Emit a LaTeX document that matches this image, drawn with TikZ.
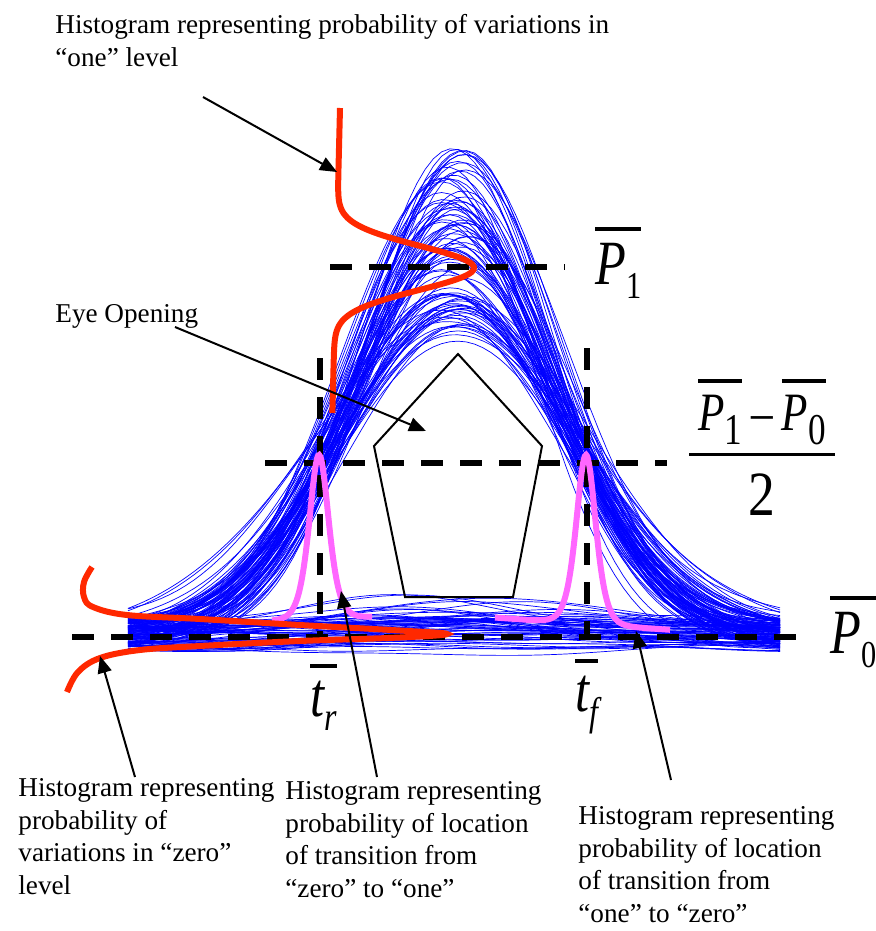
\documentclass[tikz,border=0pt]{standalone}
\usepackage{fontspec}
\usepackage{graphicx}
\setmainfont{Liberation Serif}
\newfontfamily\lblfont{Liberation Serif}
\usetikzlibrary{arrows.meta}
\definecolor{histred}{RGB}{255,40,0}
\definecolor{histpink}{RGB}{255,102,255}

\newcommand{\notefont}{\fontsize{13.6}{16.3}\selectfont}
% barred level symbol with its index: \ovl{symbol}{index}{index size}
\newcommand{\ovl}[3]{\scalebox{0.8}[1]{\vbox{\hrule height 1.6pt\kern 6.5pt\hbox{\itshape #1\lower 7pt\hbox{\fontsize{#3}{#3}\selectfont #2}}}}}

\begin{document}
\begin{tikzpicture}[
    x=0.5pt, y=-0.5pt,
    trace/.style={blue, line width=0.35pt},
    lvl/.style={line width=3pt, dash pattern=on 11pt off 8.5pt},
    hist/.style={line width=3pt},
    arr/.style={-{Triangle[length=8.5pt,width=7pt]}, line width=1pt},
    note/.style={font=\notefont, align=left, anchor=north west, inner sep=0pt},
    lbl/.style={font=\lblfont\fontsize{31.5}{34}\selectfont, anchor=north west, inner sep=0pt},
    declare function={sechsq(\u)=4*exp(-2*abs(\u))/(1+exp(-2*abs(\u)))^2;}
  ]
  \useasboundingbox (0,0) rectangle (875,931);

  % eye diagram traces
  \pgfmathsetseed{2718}
  \foreach \k in {1,...,90}{
    \pgfmathsetmacro\aa{395+95*rand}
    \pgfmathsetmacro\sl{(134+10*rand)/sqrt(2*ln(\aa/172))}
    \pgfmathsetmacro\sr{(134+10*rand)/sqrt(2*ln(\aa/172))}
    \pgfmathsetmacro\cc{454+14*rand}
    \pgfmathsetmacro\bb{635+15*rand}
    \pgfmathsetmacro\ww{3*rand}
    \pgfmathsetmacro\ph{180*rand}
    \draw[trace] plot[domain=128:780, samples=80]
      (\x, {\bb-\aa*exp(-((\x-\cc)/ifthenelse(\x<\cc,\sl,\sr))^2/2)+\ww*sin(1.5*\x+\ph)});
  }
  \foreach \k in {1,...,60}{
    \pgfmathsetmacro\bb{635+15*rand}
    \pgfmathsetmacro\hh{12+22*rand}
    \pgfmathsetmacro\cc{455+80*rand}
    \pgfmathsetmacro\ph{180*rand}
    \draw[trace] plot[domain=128:780, samples=50] (\x, {\bb-\hh*exp(-((\x-\cc)/110)^2/2)+2*sin(1.2*\x+\ph)});
  }

  % levels and crossing times
  \draw[lvl] (330,267) -- (565,267);
  \draw[lvl] (265,463) -- (667,463);
  \draw[lvl] (72,637) -- (810,637);
  \draw[lvl] (320,358) -- (320,636);
  \draw[lvl] (587,348) -- (587,636);

  % eye opening
  \draw[line width=1pt] (458,354) -- (542,446) -- (513,597) -- (405,597) -- (374,446) -- cycle;

  % transition histograms
  \draw[hist, histpink] plot[domain=272:372, samples=90, smooth]
    (\x, {619-0.04*(\x-319)-164*sechsq((\x-319)/13)});
  \draw[hist, histpink] plot[domain=495:670, samples=120, smooth]
    (\x, {624+0.07*(\x-587)-169*sechsq((\x-586)/13)});

  % level histograms
  \draw[hist, histred] plot[domain=108:413, samples=120, smooth]
    ({340-0.025*(\x-108)+138*exp(-((\x-268)/22)^2/2)}, \x);
  \draw[hist, histred] plot[smooth, tension=0.6] coordinates {
    (92,567) (84,582) (84,597) (93,607) (127,615) (200,619) (300,625)
    (400,630.5) (447,634) (400,637.5) (300,641) (200,646) (140,650)
    (100,658) (78,672) (67,692)};

  % labels
  \node[lbl] (p1) at (595,227) {\ovl{P}{\upshape 1}{19}};
  \node[lbl] (p0) at (830,596) {\ovl{P}{\upshape 0}{19}};
  \node[lbl] (tr) at (310,664) {\ovl{t}{r}{20}};
  \node[lbl] (tf) at (575,659) {\ovl{t}{f}{20}};
  \node[lbl, anchor=north] (half) at (762,379) {\fontsize{27}{30}\selectfont\setlength{\arrayrulewidth}{1.5pt}%
    \begin{tabular}{@{\,}c@{\,}}\ovl{P}{\upshape 1}{22}\,\scalebox{0.8}[1]{–}\,\ovl{P}{\upshape 0}{22}\\[2pt]\hline
    \rule{0pt}{30pt}\fontsize{31.5}{34}\selectfont\scalebox{0.85}[1]{2}\end{tabular}};

  \node[note] (onenote) at (55,14) {Histogram representing probability of variations in\\“one” level};
  \node[note] (eyenote) at (55,304) {Eye Opening};
  \node[note] (zeronote) at (18,778) {Histogram representing\\probability of\\variations in “zero”\\level};
  \node[note] (risenote) at (285,781) {Histogram representing\\probability of location\\of transition from\\“zero” to “one”};
  \node[note] (fallnote) at (578,806) {Histogram representing\\probability of location\\of transition from\\“one” to “zero”};

  \coordinate (onetail) at (203,97);
  \coordinate (onetip) at (337,172);
  \coordinate (eyetail) at (175,327);
  \coordinate (eyetip) at (426,431);
  \coordinate (zerotail) at (135,777);
  \coordinate (zerotip) at (100,656);
  \coordinate (risetail) at (377,777);
  \coordinate (risetip) at (341,591);
  \coordinate (falltail) at (671,780);
  \coordinate (falltip) at (636,631);

  \draw[arr] (onetail) -- (onetip);
  \draw[arr] (eyetail) -- (eyetip);
  \draw[arr] (zerotail) -- (zerotip);
  \draw[arr] (risetail) -- (risetip);
  \draw[arr] (falltail) -- (falltip);
\end{tikzpicture}
\end{document}
